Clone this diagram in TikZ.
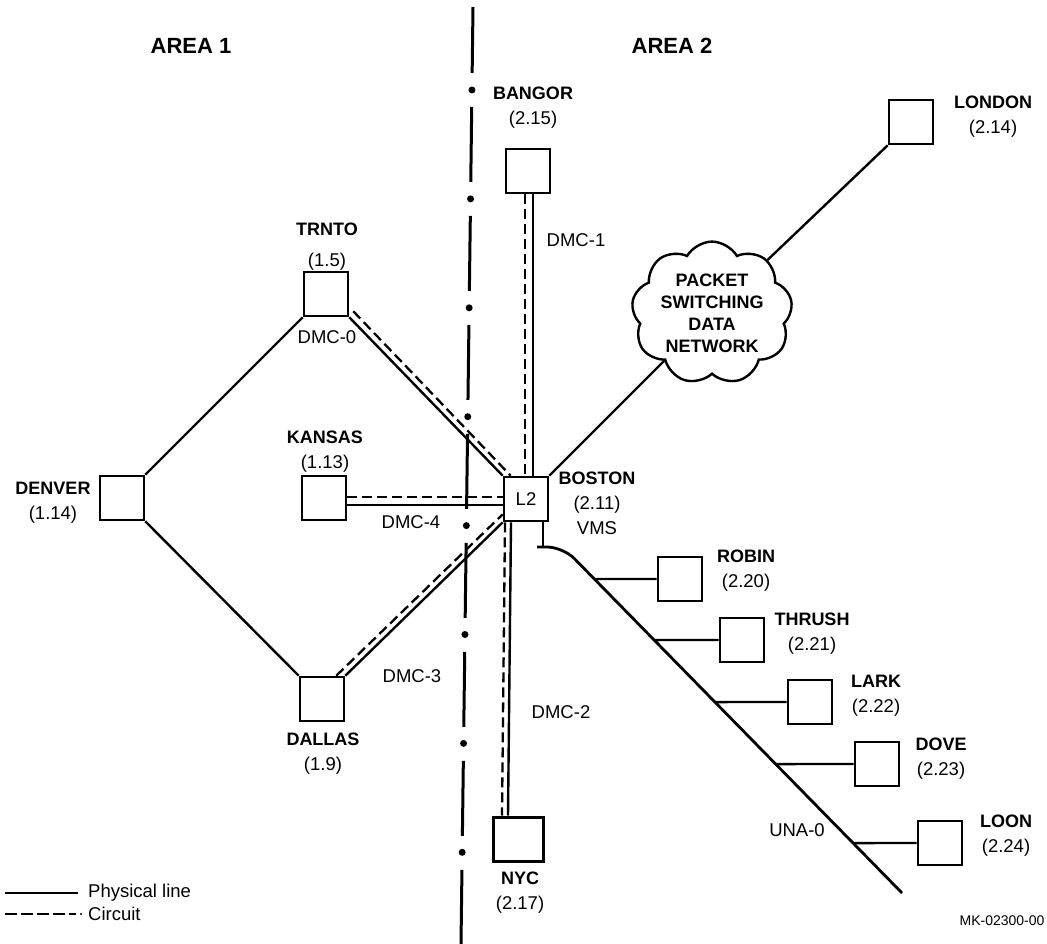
\documentclass[tikz,border=0pt]{standalone}
\usepackage{fontspec}
\setmainfont{Liberation Sans}
\usetikzlibrary{calc,shapes.symbols}

\newcommand{\nm}[1]{{\fontsize{18}{25}\selectfont\bfseries #1}}

\begin{document}
\begin{tikzpicture}[
          x=1pt, y=-1pt,
          host/.style={draw, line width=2.6pt, minimum size=44pt, inner sep=0pt, font=\fontsize{18.5}{25}\selectfont},
          phys/.style={line width=2.4pt},
          circ/.style={line width=2.3pt, dash pattern=on 10pt off 5pt},
          lbl/.style={align=center, inner sep=0pt, font=\fontsize{18.5}{25}\selectfont},
          area/.style={inner sep=0pt, font=\fontsize{22}{26}\selectfont\bfseries},
          divider/.style={line width=3pt, dash pattern=on 75pt off 34pt, dash phase=9pt}
      ]
        \useasboundingbox (0,0) rectangle (1047,944);

        % area divider
        \coordinate (dtop) at (473,7);
        \coordinate (dbot) at (461,944);
        \draw[divider] (dtop) -- (dbot);
        \foreach \k in {0,...,7}
          \fill ($(dtop)!{(83+108.9*\k)/937}!(dbot)$) circle (3.5pt);
        \node[area] (area1) at (191,46) {AREA 1};
        \node[area] (area2) at (672,46) {AREA 2};

        % hosts
        \node[host] (bangor) at (528,171) {};
        \node[host] (london) at (911,122) {};
        \node[host] (trnto) at (326,294) {};
        \node[host] (denver) at (122,498) {};
        \node[host] (kansas) at (324,498) {};
        \node[host] (boston) at (526,499) {L2};
        \node[host] (dallas) at (322,699) {};
        \node[host, minimum width=50pt, line width=3pt] (nyc) at (518,839) {};
        \node[host] (robin) at (680,579) {};
        \node[host] (thrush) at (742,640) {};
        \node[host] (lark) at (810,702) {};
        \node[host] (dove) at (877,764) {};
        \node[host] (loon) at (940,843) {};
        \node[cloud, draw, line width=2.4pt, cloud puffs=9, cloud puff arc=120, aspect=1.2,
              minimum width=158pt, minimum height=132pt, inner sep=0pt, align=center,
              font=\fontsize{18}{22}\selectfont\bfseries] (psdn) at (712,313)
              {PACKET\\SWITCHING\\DATA\\NETWORK};

        % host labels
        \node[lbl] (bangor-l) at (533,108) {\nm{BANGOR}\\(2.15)};
        \node[lbl] (london-l) at (993,117) {\nm{LONDON}\\(2.14)};
        \node[lbl] (trnto-l) at (327,247) {\nm{TRNTO}\\[6pt](1.5)};
        \node[lbl] (denver-l) at (53,503) {\nm{DENVER}\\(1.14)};
        \node[lbl] (kansas-l) at (325,452) {\nm{KANSAS}\\(1.13)};
        \node[lbl] (boston-l) at (597,503) {\nm{BOSTON}\\(2.11)\\VMS};
        \node[lbl] (dallas-l) at (323,754) {\nm{DALLAS}\\(1.9)};
        \node[lbl] (nyc-l) at (520,893) {\nm{NYC}\\(2.17)};
        \node[lbl] (robin-l) at (746,571) {\nm{ROBIN}\\(2.20)};
        \node[lbl] (thrush-l) at (812,634) {\nm{THRUSH}\\(2.21)};
        \node[lbl] (lark-l) at (876,696) {\nm{LARK}\\(2.22)};
        \node[lbl] (dove-l) at (941,759) {\nm{DOVE}\\(2.23)};
        \node[lbl] (loon-l) at (1006,836) {\nm{LOON}\\(2.24)};

        % line labels
        \node[lbl] (dmc0) at (327,337) {DMC-0};
        \node[lbl] (dmc1) at (576,240) {DMC-1};
        \node[lbl] (dmc2) at (561,712) {DMC-2};
        \node[lbl] (dmc3) at (412,676) {DMC-3};
        \node[lbl] (dmc4) at (411,522) {DMC-4};
        \node[lbl] (una0) at (797,830) {UNA-0};
        \node[lbl, font=\fontsize{14}{17}\selectfont] (mk) at (1002,921) {MK-02300-00};

        % physical lines and circuits
        \draw[phys] (trnto.south west) -- (denver.north east);
        \draw[phys] (denver.south east) -- (dallas.north west);
        \draw[phys] (trnto.south east) -- (boston.north west);
        \draw[circ] ([shift={(4,-6)}]trnto.south east) -- ([shift={(8,0)}]boston.north west);
        \draw[phys] ([yshift=-7]kansas.east) -- ([yshift=-7]kansas.east -| boston.west);
        \draw[circ] ([yshift=1]kansas.east) -- ([yshift=1]kansas.east -| boston.west);
        \draw[phys] (dallas.north east) -- (boston.south west);
        \draw[circ] ([xshift=-9]dallas.north east) -- ([yshift=8]boston.south west);
        \draw[phys] ([xshift=5]bangor.south) -- ([xshift=5]bangor.south |- boston.north);
        \draw[circ] ([xshift=-3]bangor.south) -- ([xshift=-3]bangor.south |- boston.north);
        \draw[phys] ([xshift=-15]boston.south) -- ([xshift=-10]nyc.north);
        \draw[circ] ([xshift=-21]boston.south) -- ([xshift=-16]nyc.north);
        \draw[phys] (boston.north east) -- (psdn);
        \draw[phys] (psdn) -- (london.south west);

        % ethernet
        \coordinate (bustop) at (563,547);
        \coordinate (busend) at (902,893);
        \draw[phys] ([xshift=17]boston.south) -- ++(0,24);
        \draw[phys, line width=2.8pt, rounded corners=16pt] (537,547) -- (bustop) -- (busend);
        \foreach \h in {robin,thrush,lark,dove,loon}
          \draw[phys] (\h.west) -- (intersection of \h.west--\h.east and bustop--busend);

        % legend
        \node[lbl, anchor=west] (leg-phys) at (88,893) {Physical line};
        \node[lbl, anchor=west] (leg-circ) at (88,914) {Circuit};
        \coordinate (leg-a) at (5,893);
        \coordinate (leg-b) at (5,914);
        \draw[phys] (leg-a) -- ([xshift=-10]leg-phys.west);
        \draw[phys, dash pattern=on 12pt off 4pt] (leg-b) -- ([xshift=-12]leg-circ.west);
        \fill ([xshift=-7]leg-circ.west) circle (1.2pt);
      \end{tikzpicture}
\end{document}
